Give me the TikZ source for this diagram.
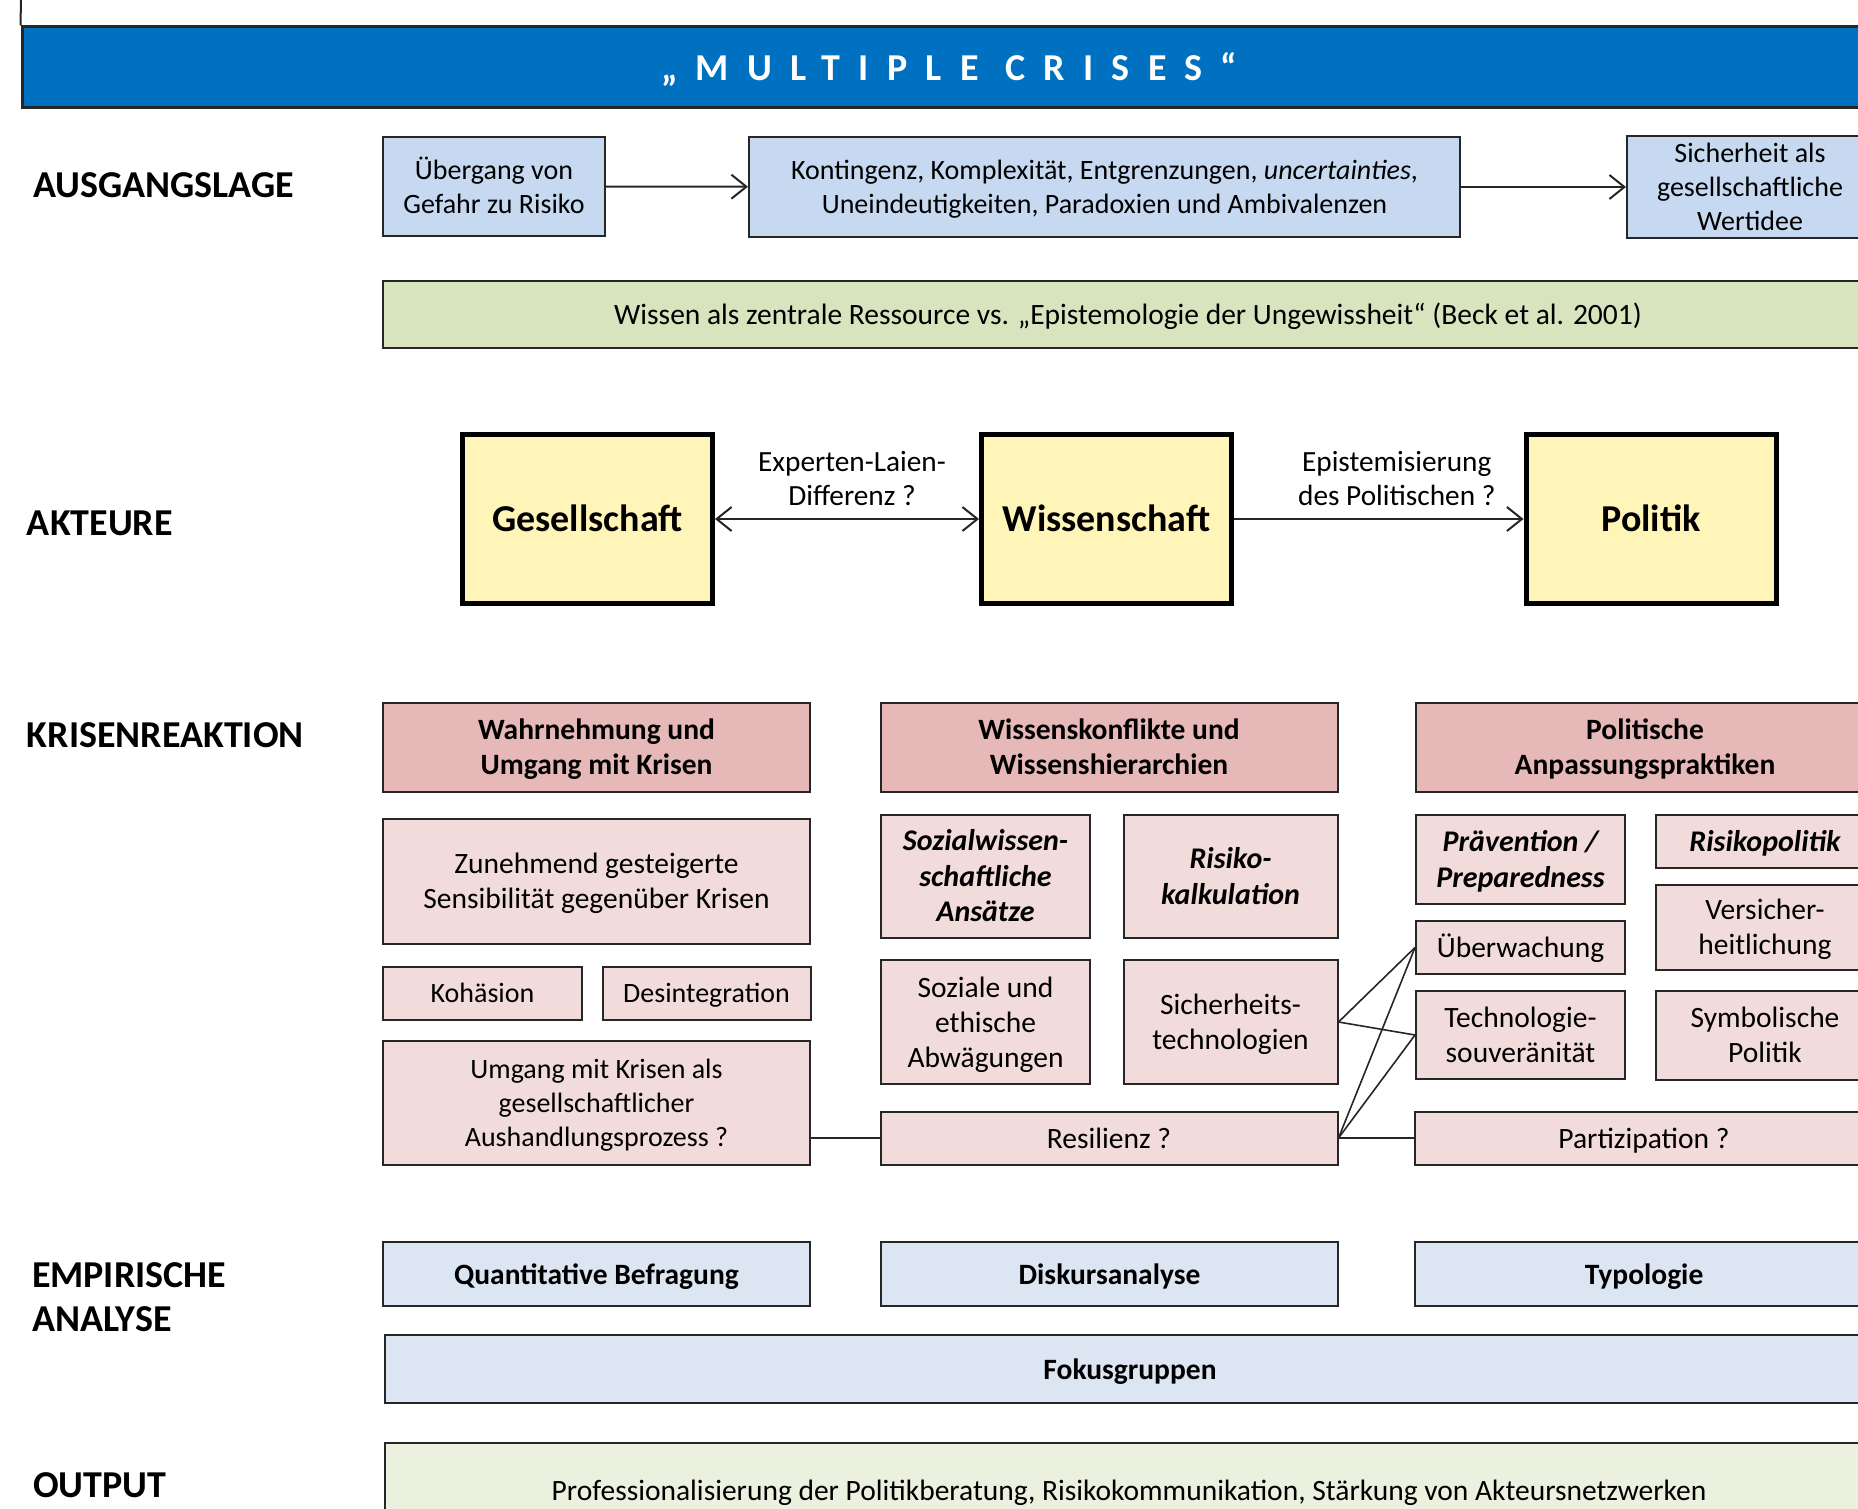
\documentclass[tikz,border=0pt]{standalone}
\usepackage{fontspec}
\setmainfont{Carlito}
\newfontfamily\spacedfont[LetterSpace=48]{Carlito}
\usetikzlibrary{arrows.meta}

\definecolor{headblue}{HTML}{0070C0}
\definecolor{startblue}{HTML}{C6D9F1}
\definecolor{knowgreen}{HTML}{D7E4BD}
\definecolor{actoryellow}{HTML}{FFF5B8}
\definecolor{headpink}{HTML}{E6B9B8}
\definecolor{lightpink}{HTML}{F2DCDB}
\definecolor{methodblue}{HTML}{DCE6F2}
\definecolor{outgreen}{HTML}{EBF1DE}

% line box as the office program sets it (ascent and descent of the font)
\newcommand{\linestrut}{\rule[-0.269em]{0pt}{1.221em}}

\begin{document}
\begin{tikzpicture}[x=1pt, y=-1pt, line width=2pt, draw=black!85, >={Straight Barb[length=15pt,width=24pt]}]
        \tikzstyle{box}=[draw=black!85, line width=2pt, align=center, inner sep=0pt, font=\fontsize{28}{34}\selectfont,
                         execute at begin node=\linestrut, execute at end node=\linestrut]
        \tikzstyle{start box}=[box, fill=startblue]
        \tikzstyle{actor}=[box, fill=actoryellow, draw=black, line width=5pt, minimum width=250pt, minimum height=169pt, font=\fontsize{38}{46}\selectfont\bfseries]
        \tikzstyle{crisis head}=[box, fill=headpink, minimum height=89pt, font=\fontsize{29.5}{35.5}\selectfont\bfseries]
        \tikzstyle{crisis}=[box, fill=lightpink, font=\fontsize{29.5}{35}\selectfont]
        \tikzstyle{crisis small}=[crisis, font=\fontsize{28}{34}\selectfont]
        \tikzstyle{crisis key}=[crisis, font=\fontsize{30}{35.5}\selectfont\bfseries\itshape]
        \tikzstyle{method}=[box, fill=methodblue, font=\fontsize{29.5}{35}\selectfont\bfseries]
        \tikzstyle{row label}=[anchor=west, align=left, inner sep=0pt, font=\fontsize{38}{44}\selectfont\bfseries]
        \tikzstyle{annot}=[align=center, inner sep=0pt, font=\fontsize{29.3}{34.5}\selectfont]

        \useasboundingbox (0,0) rectangle (1858,1509);
        \clip (0,0) rectangle (1858,1509);

        % Title band
        \node[box, fill=headblue, line width=3pt, minimum width=1854pt, minimum height=81pt,
              text=white, font=\spacedfont\fontsize{38}{44}\selectfont\bfseries] (title) at (949,67.5) {„MULTIPLE CRISES“};
        \coordinate (frame top) at (21,0);
        \draw (title.north west) -- (frame top);

        % Row labels
        \node[row label] (lab-start) at (32,185) {AUSGANGSLAGE};
        \node[row label] (lab-actors) at (26,523) {AKTEURE};
        \node[row label] (lab-crisis) at (26,735) {KRISENREAKTION};
        \node[row label] (lab-empiric) at (31,1297) {EMPIRISCHE\\ANALYSE};
        \node[row label] (lab-output) at (32,1485) {OUTPUT};

        % Ausgangslage
        \node[start box, minimum width=222pt, minimum height=99pt] (S-1) at (494,186.5) {\linestrut Übergang von\\Gefahr zu Risiko};
        \node[start box, minimum width=711pt, minimum height=100pt] (S-2) at (1104.5,187) {\linestrut Kontingenz, Komplexität, Entgrenzungen, \textit{uncertainties},\\Uneindeutigkeiten, Paradoxien und Ambivalenzen};
        \node[start box, minimum width=246pt, minimum height=100pt] (S-3) at (1750,187) {\linestrut Sicherheit als\\gesellschaftliche\\Wertidee};
        \node[box, fill=knowgreen, minimum width=1490pt, minimum height=67pt, font=\fontsize{29.5}{35}\selectfont] (K) at (1128,314) {Wissen als zentrale Ressource vs. „Epistemologie der Ungewissheit“ (Beck et al. 2001)};

        \path (S-1) edge[->] (S-2);
        \path (S-2) edge[->] (S-3);

        % Akteure
        \node[actor] (A-ges) at (587.5,519) {Gesellschaft};
        \node[actor] (A-wiss) at (1106.5,519) {Wissenschaft};
        \node[actor] (A-pol) at (1651,519) {Politik};

        \path (A-ges) edge[<->] node[annot, midway, above=12pt, xshift=5pt] {Experten-Laien-\\Differenz ?} (A-wiss);
        \path (A-wiss) edge[->] node[annot, midway, above=12pt, xshift=18pt] {Epistemisierung\\des Politischen ?} (A-pol);

        % Krisenreaktion: column heads
        \node[crisis head, minimum width=427pt] (H-1) at (596.5,747) {\linestrut Wahrnehmung und\\Umgang mit Krisen};
        \node[crisis head, minimum width=457pt] (H-2) at (1109,747) {\linestrut Wissenskonflikte und\\Wissenshierarchien};
        \node[crisis head, minimum width=458pt] (H-3) at (1645,747) {\linestrut Politische\\Anpassungspraktiken};

        % Krisenreaktion: first column
        \node[crisis, minimum width=427pt, minimum height=125pt] (zunehmend) at (596.5,881) {\linestrut Zunehmend gesteigerte\\Sensibilität gegenüber Krisen};
        \node[crisis small, minimum width=199pt, minimum height=53pt] (kohaesion) at (482.5,993) {Kohäsion};
        \node[crisis small, minimum width=208pt, minimum height=53pt] (desint) at (706.5,993) {Desintegration};
        \node[crisis small, minimum width=427pt, minimum height=124pt] (umgang) at (596.5,1103) {\linestrut Umgang mit Krisen als\\gesellschaftlicher\\Aushandlungsprozess ?};

        % Krisenreaktion: second column
        \node[crisis key, minimum width=209pt, minimum height=123pt] (sozwiss) at (985.5,876) {\linestrut Sozialwissen-\\schaftliche\\Ansätze};
        \node[crisis key, minimum width=214pt, minimum height=123pt] (risiko) at (1230.5,876) {\linestrut Risiko-\\kalkulation};
        \node[crisis, minimum width=209pt, minimum height=124pt] (soziale) at (985.5,1022) {\linestrut Soziale und\\ethische\\Abwägungen};
        \node[crisis, minimum width=214pt, minimum height=124pt] (sitech) at (1230.5,1022) {\linestrut Sicherheits-\\technologien};
        \node[crisis, minimum width=457pt, minimum height=53pt] (resil) at (1109,1138) {Resilienz ?};

        % Krisenreaktion: third column
        \node[crisis key, minimum width=209pt, minimum height=89pt] (praev) at (1520.5,859) {\linestrut Prävention /\\Preparedness};
        \node[crisis key, minimum width=218pt, minimum height=53pt] (rpolitik) at (1765,841) {Risikopolitik};
        \node[crisis, minimum width=209pt, minimum height=53pt] (ueberw) at (1520.5,947.5) {Überwachung};
        \node[crisis, minimum width=218pt, minimum height=85pt] (versich) at (1765,927) {\linestrut Versicher-\\heitlichung};
        \node[crisis, minimum width=209pt, minimum height=88pt] (techsouv) at (1520.5,1035) {\linestrut Technologie-\\souveränität};
        \node[crisis, minimum width=218pt, minimum height=89pt] (symbol) at (1765,1035) {\linestrut Symbolische\\Politik};
        \node[crisis, minimum width=459pt, minimum height=53pt] (partiz) at (1644,1138) {Partizipation ?};

        % Links between the columns
        \draw[line width=1.6pt] (umgang.east |- resil.west) -- (resil.west);
        \draw[line width=1.6pt] (sitech.east) -- (ueberw.west);
        \draw[line width=1.6pt] (sitech.east) -- (techsouv.west);
        \draw[line width=1.6pt] (resil.east) -- (ueberw.west);
        \draw[line width=1.6pt] (resil.east) -- (techsouv.west);
        \draw[line width=1.6pt] (resil.east) -- (partiz.west);

        % Empirische Analyse
        \node[method, minimum width=427pt, minimum height=64pt] (M-1) at (596.5,1274) {Quantitative Befragung};
        \node[method, minimum width=457pt, minimum height=64pt] (M-2) at (1109.5,1274) {Diskursanalyse};
        \node[method, minimum width=459pt, minimum height=64pt] (M-3) at (1644,1274) {Typologie};
        \node[method, minimum width=1490pt, minimum height=68pt] (M-4) at (1130,1369) {Fokusgruppen};

        % Output
        \node[box, fill=outgreen, minimum width=1488pt, minimum height=94pt, font=\fontsize{29.5}{35}\selectfont] (out) at (1129,1490) {Professionalisierung der Politikberatung, Risikokommunikation, Stärkung von Akteursnetzwerken};
\end{tikzpicture}
\end{document}
